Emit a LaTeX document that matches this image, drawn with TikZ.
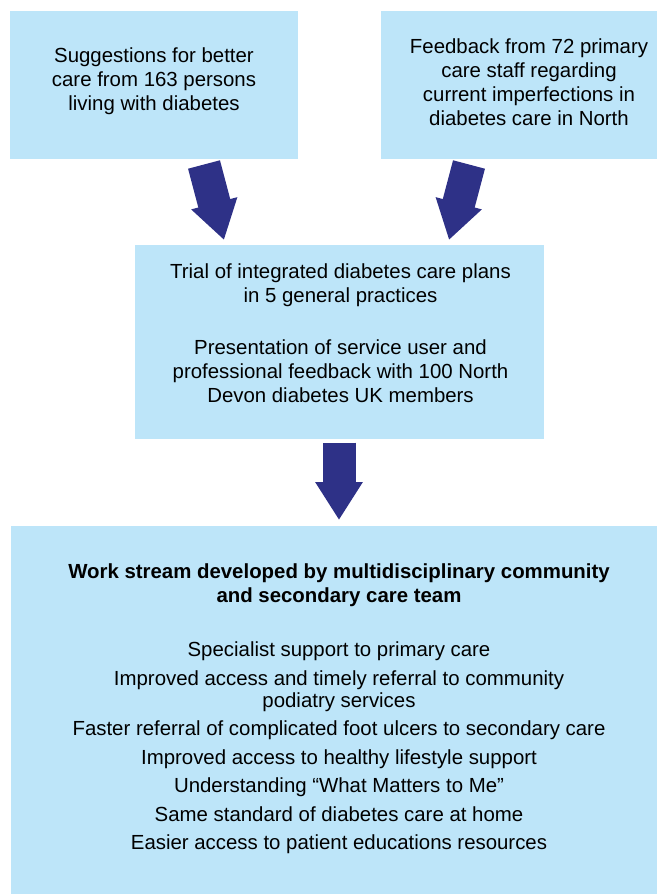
\documentclass[tikz,border=0pt]{standalone}
\usepackage{fontspec}
\setmainfont{Liberation Sans}
\usetikzlibrary{arrows.meta}
\definecolor{boxblue}{RGB}{189,229,249}
\definecolor{arrowblue}{RGB}{46,49,135}
\begin{document}
\begin{tikzpicture}[x=1pt, y=-1pt, font=\fontsize{20.4}{24}\selectfont,
        box/.style={fill=boxblue, inner sep=0pt},
        txt/.style={align=center, inner sep=0pt},
        bigarrow/.style={draw=arrowblue, line width=33pt, -{Triangle[width=45pt, length=38pt, fill=arrowblue]}}]
    \useasboundingbox (0,0) rectangle (657,894);
    % boxes
    \node[box, minimum width=288pt, minimum height=148pt] (sugg) at (154,85) {};
    \node[box, minimum width=276pt, minimum height=148pt] (feed) at (519,85) {};
    \node[box, minimum width=409pt, minimum height=194pt] (trial) at (339.5,342) {};
    \node[box, minimum width=646pt, minimum height=368pt] (work) at (334,710) {};
    % texts
    \node[txt] (suggtxt) at (154,81) {Suggestions for better\\care from 163 persons\\living with diabetes};
    \node[txt] (feedtxt) at (529,82) {Feedback from 72 primary\\care staff regarding\\current imperfections in\\diabetes care in North};
    \node[txt] (trialtxt) at (340.5,333) {Trial of integrated diabetes care plans\\in 5 general practices\\[28pt]
        Presentation of service user and\\professional feedback with 100 North\\Devon diabetes UK members};
    \node[txt, font=\fontsize{20.4}{22}\selectfont] (worktxt) at (339,709) {\textbf{Work stream developed by multidisciplinary community}\\[2pt]
        \textbf{and secondary care team}\\[32pt]
        Specialist support to primary care\\[6.5pt]
        Improved access and timely referral to community\\podiatry services\\[6.5pt]
        Faster referral of complicated foot ulcers to secondary care\\[6.5pt]
        Improved access to healthy lifestyle support\\[6.5pt]
        Understanding “What Matters to Me”\\[6.5pt]
        Same standard of diabetes care at home\\[6.5pt]
        Easier access to patient educations resources};
    % arrows
    \coordinate (a1) at (204,164.5);
    \coordinate (b1) at (224,240);
    \coordinate (a2) at (469,164.5);
    \coordinate (b2) at (449,240);
    \coordinate (a3) at (339,442.5);
    \coordinate (b3) at (339,520);
    \draw[bigarrow] (a1) -- (b1);
    \draw[bigarrow] (a2) -- (b2);
    \draw[bigarrow] (a3) -- (b3);
\end{tikzpicture}
\end{document}
